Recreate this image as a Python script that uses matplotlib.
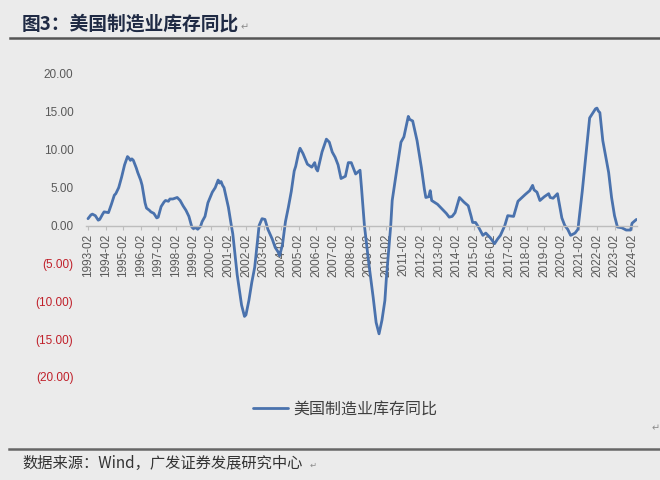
import matplotlib
matplotlib.use('Agg')
import matplotlib.pyplot as plt
from matplotlib.lines import Line2D

plt.rcParams['font.family'] = ['Noto Sans CJK SC', 'DejaVu Sans']

# ---------------- data ----------------
dates = [
    '1993-02', '1993-04', '1993-05', '1993-07', '1993-09', '1993-10', '1993-12',
    '1994-01', '1994-04', '1994-06', '1994-07', '1994-08', '1994-09', '1994-11',
    '1995-01', '1995-03', '1995-05', '1995-06', '1995-07', '1995-08', '1995-09',
    '1995-11', '1995-12', '1996-02', '1996-03', '1996-05', '1996-06', '1996-08',
    '1996-09', '1996-11', '1997-01', '1997-02', '1997-04', '1997-06', '1997-07',
    '1997-09', '1997-10', '1997-12', '1998-03', '1998-05', '1998-07', '1998-09',
    '1998-11', '1999-01', '1999-02', '1999-04', '1999-05', '1999-07', '1999-08',
    '1999-10', '1999-12', '2000-03', '2000-05', '2000-07', '2000-08', '2000-09',
    '2000-10', '2000-11', '2001-02', '2001-04', '2001-05', '2001-08', '2001-11',
    '2002-01', '2002-02', '2002-04', '2002-06', '2002-08', '2002-11', '2003-01',
    '2003-03', '2003-05', '2003-08', '2003-10', '2003-12', '2004-01', '2004-03',
    '2004-05', '2004-07', '2004-09', '2004-11', '2004-12', '2005-02', '2005-03',
    '2005-05', '2005-08', '2005-11', '2006-01', '2006-02', '2006-03', '2006-06',
    '2006-09', '2006-11', '2007-01', '2007-03', '2007-05', '2007-07', '2007-10',
    '2007-12', '2008-02', '2008-05', '2008-08', '2008-09', '2008-11', '2009-02',
    '2009-05', '2009-07', '2009-09', '2009-11', '2010-01', '2010-02', '2010-05',
    '2010-06', '2010-09', '2010-12', '2011-02', '2011-05', '2011-06', '2011-08',
    '2011-11', '2012-02', '2012-04', '2012-05', '2012-07', '2012-08', '2012-09',
    '2013-01', '2013-05', '2013-07', '2013-09', '2013-11', '2014-01', '2014-04',
    '2014-07', '2014-10', '2014-12', '2015-01', '2015-03', '2015-05', '2015-08',
    '2015-10', '2016-01', '2016-04', '2016-06', '2016-08', '2016-11', '2017-01',
    '2017-05', '2017-08', '2018-01', '2018-04', '2018-06', '2018-07', '2018-09',
    '2018-11', '2019-02', '2019-05', '2019-06', '2019-08', '2019-11', '2020-02',
    '2020-04', '2020-06', '2020-08', '2020-11', '2021-01', '2021-04', '2021-07',
    '2021-09', '2022-01', '2022-02', '2022-03', '2022-04', '2022-06', '2022-10',
    '2022-12', '2023-02', '2023-04', '2023-07', '2023-10', '2024-01', '2024-02',
    '2024-05',
]
values = [
    0.9, 1.4, 1.5, 1.3, 0.7, 0.8, 1.5,
    1.8, 1.7, 2.8, 3.4, 4.0, 4.2, 5.0,
    6.4, 8.0, 9.1, 8.9, 8.6, 8.8, 8.6,
    7.6, 7.0, 6.0, 5.3, 3.0, 2.3, 2.0,
    1.8, 1.6, 1.0, 1.1, 2.5, 3.1, 3.3,
    3.2, 3.5, 3.5, 3.7, 3.3, 2.6, 2.0,
    1.2, -0.2, -0.4, -0.3, -0.5, -0.1, 0.5,
    1.2, 3.0, 4.4, 5.0, 6.0, 5.6, 5.8,
    5.3, 5.0, 2.4, 0.0, -1.1, -6.5, -10.5,
    -12.0, -11.8, -9.9, -7.5, -5.5, 0.0, 0.9,
    0.8, -0.5, -1.8, -2.9, -3.5, -4.0, -2.5,
    0.5, 2.4, 4.5, 7.2, 7.8, 9.6, 10.2,
    9.5, 8.1, 7.7, 8.3, 7.5, 7.2, 9.7,
    11.4, 11.0, 9.7, 9.0, 8.0, 6.2, 6.5,
    8.3, 8.3, 6.8, 7.3, 5.0, 0.0, -5.0,
    -9.5, -12.8, -14.3, -12.5, -9.9, -7.0, 0.0,
    3.3, 7.2, 11.0, 11.7, 14.4, 14.0, 13.8,
    11.2, 7.6, 4.8, 3.7, 3.8, 4.6, 3.3,
    2.8, 2.0, 1.6, 1.1, 1.2, 1.7, 3.7,
    3.1, 2.6, 1.2, 0.4, 0.4, -0.2, -1.3,
    -1.0, -1.6, -2.4, -1.8, -1.3, 0.0, 1.3,
    1.2, 3.2, 4.1, 4.6, 5.3, 4.7, 4.4,
    3.3, 3.8, 4.2, 3.7, 3.6, 4.2, 1.0,
    0.0, -0.5, -1.3, -1.0, -0.5, 4.6, 10.3,
    14.2, 15.4, 15.5, 15.1, 14.9, 11.2, 7.0,
    3.7, 1.3, -0.2, -0.3, -0.6, -0.6, 0.3,
    0.8,
]
tick_years = list(range(1993, 2025))
tick_labels = [f'{y}-02' for y in tick_years]
y_ticks = [20, 15, 10, 5, 0, -5, -10, -15, -20]
series_name = '美国制造业库存同比'
title_text = '图3：美国制造业库存同比'
source_text = '数据来源：Wind，广发证券发展研究中心'


def month_index(s):
    y, m = s.split('-')
    return (int(y) - 1993) * 12 + int(m) - 2


x = [month_index(d) for d in dates]
tick_pos = [month_index(t) for t in tick_labels]

W, H = 660, 480
bg = '#ebebeb'
fig = plt.figure(figsize=(W / 100, H / 100), dpi=100, facecolor=bg)

left, right, top, bottom = 86, 637, 74, 377
ax = fig.add_axes([left / W, 1 - bottom / H, (right - left) / W, (bottom - top) / H])
ax.set_facecolor(bg)

px_per_month = 17.55 / 12
ax.set_xlim((left - 88) / px_per_month, (right - 88) / px_per_month)
ax.set_ylim(-20, 20)

line, = ax.plot(x, values, color='#4a72ad', lw=2.0, solid_joinstyle='round',
                solid_capstyle='round', label=series_name)

for s in ['top', 'right', 'left']:
    ax.spines[s].set_visible(False)
ax.spines['bottom'].set_position(('data', 0))
ax.spines['bottom'].set_color('#bdbdbd')
ax.spines['bottom'].set_linewidth(1.0)

ax.set_xticks(tick_pos)
ax.set_xticklabels(tick_labels, rotation=90, fontfamily='Liberation Sans',
                   fontsize=8.5, color='#595959')
ax.tick_params(axis='x', length=3, width=0.8, color='#bdbdbd', pad=3)


def fmt(v):
    return f'{v:.2f}' if v >= 0 else f'({abs(v):.2f})'


ax.set_yticks(y_ticks)
ax.set_yticklabels([fmt(v) for v in y_ticks], fontfamily='Liberation Sans',
                   fontsize=8.5)
ax.tick_params(axis='y', length=0, pad=9)
for lbl, v in zip(ax.get_yticklabels(), y_ticks):
    lbl.set_color('#c0202a' if v < 0 else '#595959')

# legend
fig.legend(handles=[line], labels=[series_name], loc='center left',
           bbox_to_anchor=(253 / W, 1 - 409 / H), frameon=False,
           fontsize=11.5, handlelength=2.2, handletextpad=0.3,
           labelcolor='#404040', borderaxespad=0, borderpad=0)

# title and rules
fig.text(22 / W, 1 - 24 / H, title_text, fontsize=13.5, fontweight='bold',
         color='#1f2a44', va='center', ha='left')
fig.text(241 / W, 1 - 27 / H, '↵', fontsize=7, color='#8c8c8c', va='center',
         family=['DejaVu Sans'])
fig.add_artist(Line2D([10 / W, 1], [1 - 38 / H] * 2, color='#555555', lw=1.8))
fig.add_artist(Line2D([9 / W, 1], [1 - 449 / H] * 2, color='#666666', lw=1.8))
fig.text(652 / W, 1 - 428 / H, '↵', fontsize=7, color='#8c8c8c', va='center',
         family=['DejaVu Sans'])
fig.text(22 / W, 1 - 463 / H, source_text, fontsize=11, color='#333333',
         va='center', ha='left')
fig.text(310 / W, 1 - 465 / H, '↵', fontsize=6, color='#8c8c8c', va='center',
         family=['DejaVu Sans'])

fig.savefig('out.png', dpi=100, facecolor=bg)
